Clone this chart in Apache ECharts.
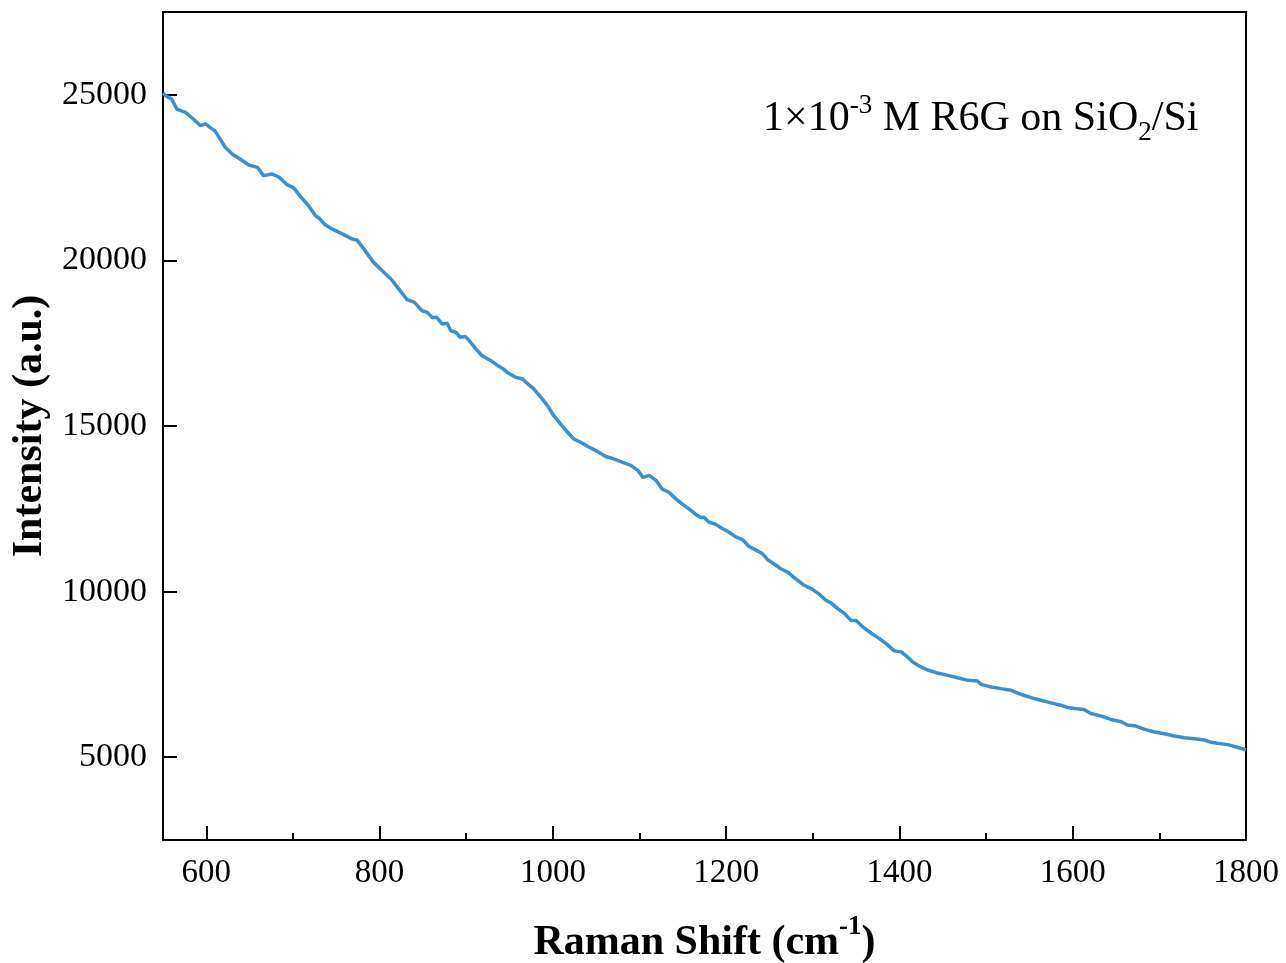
<!DOCTYPE html>
<html>
<head>
<meta charset="utf-8">
<script src="https://cdn.jsdelivr.net/npm/echarts@6/dist/echarts.min.js"></script>
<style>html,body{margin:0;padding:0;background:#fff}#c{width:1286px;height:963px}</style>
</head>
<body>
<div id="c"></div>
<script>
const ramanShift = [550,553,560,566,576,585,593,599,605,610,616,622,630,639,649,659,666,676,684,693,701,709,718,726,730,736,745,757,768,774,782,793,803,813,820,832,840,849,855,861,866,872,878,882,888,893,899,905,911,918,928,936,943,949,957,965,972,978,986,994,1001,1009,1017,1024,1032,1042,1051,1061,1070,1080,1090,1098,1104,1111,1119,1126,1134,1142,1149,1157,1165,1171,1174,1180,1188,1196,1203,1211,1219,1226,1234,1242,1248,1255,1263,1271,1280,1290,1300,1307,1315,1321,1329,1336,1344,1350,1357,1367,1377,1386,1394,1402,1409,1415,1423,1432,1444,1456,1467,1479,1490,1494,1506,1517,1529,1540,1552,1563,1575,1586,1594,1602,1613,1621,1633,1644,1656,1663,1673,1683,1694,1706,1717,1729,1740,1752,1760,1767,1779,1790,1800];
const intensity = [25050,24970,24870,24570,24470,24270,24070,24120,24000,23910,23660,23410,23210,23060,22880,22810,22560,22610,22510,22290,22190,21920,21650,21350,21280,21100,20950,20800,20650,20610,20340,19940,19690,19440,19210,18810,18740,18480,18430,18270,18280,18080,18100,17880,17830,17680,17700,17530,17330,17130,16980,16830,16720,16590,16470,16420,16250,16120,15870,15610,15310,15060,14810,14610,14510,14360,14240,14080,14010,13910,13810,13660,13450,13510,13360,13100,13000,12800,12650,12500,12330,12230,12250,12100,12030,11900,11800,11650,11570,11370,11260,11140,10960,10840,10690,10590,10390,10190,10060,9930,9740,9660,9480,9350,9130,9130,8950,8750,8580,8400,8210,8180,8030,7880,7750,7640,7540,7470,7400,7320,7300,7200,7120,7070,7020,6900,6800,6720,6640,6570,6500,6470,6440,6320,6240,6140,6070,5970,5940,5840,5760,5710,5640,5590,5560,5520,5450,5420,5380,5300,5220];
const xMajorTicks = [600,800,1000,1200,1400,1600,1800];
const xMinorTicks = [700,900,1100,1300,1500,1700];
const yTicks = [5000,10000,15000,20000,25000];

const font = 'Liberation Serif, Times New Roman, serif';
const data = ramanShift.map((x, i) => [x, intensity[i]]);
const plain = v => String(v);

const chart = echarts.init(document.getElementById('c'), null, {renderer: 'canvas'});
chart.setOption({
  animation: false,
  backgroundColor: '#fff',
  grid: {left: 163, top: 12, right: 40, bottom: 123, containLabel: false, outerBoundsMode: 'none',
         show: true, borderColor: '#000', borderWidth: 2, backgroundColor: 'transparent'},
  xAxis: [{
    type: 'value', min: 550, max: 1800,
    name: '{b|Raman Shift (cm}{s|-1}{b|)}',
    nameLocation: 'middle', nameGap: 74,
    nameTextStyle: {rich: {
      b: {fontFamily: font, fontWeight: 'bold', fontSize: 42, color: '#000', lineHeight: 50, verticalAlign: 'bottom'},
      s: {fontFamily: font, fontWeight: 'bold', fontSize: 27, color: '#000', lineHeight: 50, verticalAlign: 'top'}
    }},
    axisLine: {show: true, onZero: false, lineStyle: {color: '#000', width: 2}},
    axisTick: {show: true, inside: true, length: 14, lineStyle: {color: '#000', width: 2}, customValues: xMajorTicks},
    axisLabel: {show: true, margin: 17, fontFamily: font, fontSize: 33, color: '#000', formatter: plain, customValues: xMajorTicks},
    splitLine: {show: false}
  }, {
    type: 'value', min: 550, max: 1800, position: 'bottom', gridIndex: 0,
    axisLine: {show: false, onZero: false},
    axisTick: {show: true, inside: true, length: 7, lineStyle: {color: '#000', width: 2}, customValues: xMinorTicks},
    axisLabel: {show: false},
    splitLine: {show: false}
  }],
  yAxis: {
    type: 'value', min: 2500, max: 27500,
    name: 'Intensity (a.u.)', nameLocation: 'middle', nameGap: 108,
    nameTextStyle: {fontFamily: font, fontWeight: 'bold', fontSize: 42, color: '#000'},
    axisLine: {show: true, onZero: false, lineStyle: {color: '#000', width: 2}},
    axisTick: {show: true, inside: true, length: 14, lineStyle: {color: '#000', width: 2}, customValues: yTicks},
    axisLabel: {show: true, margin: 16, fontFamily: font, fontSize: 34, color: '#000', formatter: plain, customValues: yTicks},
    splitLine: {show: false}
  },
  graphic: [{
    type: 'text', left: 763, top: 92,
    style: {
      text: '{n|1×10}{s|-3}{n| M R6G on SiO}{d|2}{n|/Si}',
      rich: {
        n: {fontFamily: font, fontSize: 42, fill: '#000', color: '#000', lineHeight: 54, verticalAlign: 'middle'},
        s: {fontFamily: font, fontSize: 27, fill: '#000', color: '#000', lineHeight: 54, verticalAlign: 'top'},
        d: {fontFamily: font, fontSize: 27, fill: '#000', color: '#000', lineHeight: 54, verticalAlign: 'bottom'}
      }
    }
  }],
  series: [{
    type: 'line', xAxisIndex: 0, yAxisIndex: 0, data: data, showSymbol: false, smooth: false,
    lineStyle: {color: '#3a90d0', width: 3.5}, clip: true
  }]
});
</script>
</body>
</html>
